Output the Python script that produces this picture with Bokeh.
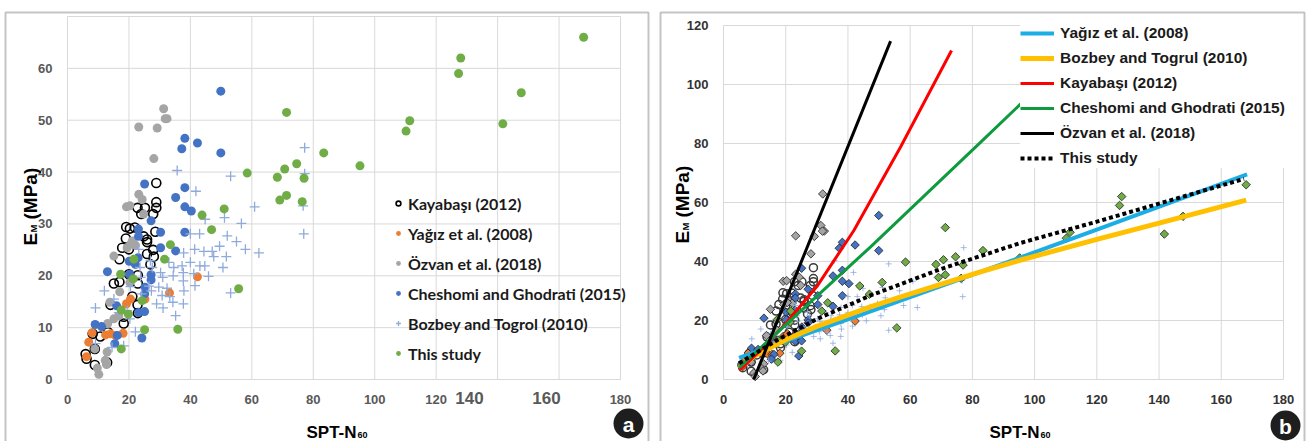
import math
from bokeh.plotting import figure
from bokeh.layouts import row
from bokeh.models import Range1d, FixedTicker, Legend, LegendItem, Label, BoxAnnotation, LinearAxis
from bokeh.embed import file_html
from bokeh.resources import INLINE

# ---------------- data ----------------
kaya_x = [28.9, 28.9, 28.9, 22.8, 25.2, 24.0, 27.9, 19.1, 20.3, 21.9, 28.6, 19.0, 24.8, 25.9, 25.9,
          17.8, 20.0, 27.9, 25.9, 28.1, 16.9, 27.0, 20.0, 22.9, 16.9, 15.1, 22.9, 21.1, 14.0, 22.8,
          22.9, 18.3, 18.3, 13.2, 10.7, 8.2, 8.9, 5.9, 6.2, 8.9, 12.9]
kaya_y = [37.9, 34.2, 33.1, 33.1, 33.1, 31.9, 31.9, 29.4, 29.1, 29.3, 28.5, 27.2, 27.6, 27.0, 26.5,
          25.4, 25.1, 25.0, 24.2, 23.7, 23.2, 22.2, 20.3, 20.1, 18.8, 18.5, 18.5, 16.0, 14.4, 14.4,
          12.8, 12.1, 10.8, 9.1, 8.3, 8.8, 5.9, 4.9, 4.0, 2.8, 3.3]

yagiz_x = [42.3, 33.2, 19.2, 20.5, 25.2, 8.0, 12.4, 14.0, 18.1, 6.9, 6.2, 15.6]
yagiz_y = [19.8, 16.7, 14.6, 15.5, 15.5, 9.0, 8.6, 8.8, 8.9, 7.2, 4.4, 8.5]

ozvan_x = [31.3, 32.4, 31.8, 23.2, 29.2, 28.1, 23.2, 24.3, 19.2, 20.3, 24.8, 21.1, 22.1, 15.1,
           19.4, 17.0, 20.3, 13.1, 15.1, 12.9, 12.3, 9.7, 10.2, 12.7, 8.9, 16.7, 13.8, 20.5]
ozvan_y = [52.2, 50.3, 50.3, 48.7, 48.5, 42.6, 35.7, 34.7, 33.3, 33.5, 31.9, 26.7, 25.9, 23.8,
           25.4, 16.9, 18.7, 10.8, 11.7, 5.3, 3.7, 2.2, 1.0, 2.9, 5.9, 12.3, 14.9, 26.1]
ozvan_extra_b_x = [31.9]
ozvan_extra_b_y = [62.9]

chesh_x = [49.9, 38.2, 37.2, 42.3, 49.9, 25.1, 38.2, 35.2, 38.2, 40.3, 27.2, 23.1, 23.1, 30.3,
           38.2, 30.3, 35.2, 23.0, 20.1, 22.1, 13.0, 20.2, 27.2, 27.2, 25.2, 25.1, 16.0, 23.1,
           25.1, 9.0, 11.1, 16.2, 15.4, 24.2]
chesh_y = [55.6, 46.5, 44.5, 45.6, 43.7, 37.7, 37.0, 35.1, 33.3, 32.5, 30.6, 29.0, 27.6, 28.4,
           28.4, 25.4, 24.8, 23.5, 22.8, 22.2, 20.8, 20.3, 20.2, 19.2, 17.8, 16.5, 14.2, 12.9,
           13.1, 10.6, 10.2, 8.5, 6.9, 8.0]

bozbey_x = [77.2, 77.2, 35.7, 53.1, 41.8, 60.9, 76.7, 44.8, 51.1, 56.6, 76.9, 40.0, 43.0, 52.0,
            55.0, 49.5, 57.9, 62.3, 41.4, 44.4, 47.1, 47.6, 51.7, 37.8, 40.0, 43.1, 44.7, 50.6,
            37.3, 34.6, 33.0, 37.7, 34.4, 31.0, 41.1, 45.9, 41.5, 37.7, 32.4, 29.7, 27.3, 37.9,
            30.8, 33.3, 34.3, 29.0, 37.7, 31.1, 35.2, 53.1, 12.0, 9.1, 24.1, 23.6, 27.6, 30.3,
            20.5, 20.3, 22.1, 14.5, 18.3, 9.1, 15.1, 16.7, 19.4, 23.2, 27.0, 23.8, 26.5]
bozbey_y = [44.7, 39.7, 40.3, 39.2, 36.3, 33.3, 33.5, 30.9, 31.2, 30.1, 28.1, 28.1, 28.1, 27.7,
            26.6, 25.7, 25.1, 24.4, 25.1, 24.7, 24.7, 23.7, 23.7, 24.4, 22.6, 21.9, 21.9, 21.6,
            21.9, 21.6, 22.6, 20.6, 20.0, 19.7, 20.4, 19.9, 18.1, 19.0, 17.6, 17.8, 17.1, 17.1,
            16.2, 16.0, 14.9, 14.6, 14.6, 13.8, 12.3, 16.7, 17.1, 13.8, 16.5, 21.6, 21.6, 20.6,
            17.9, 11.7, 9.2, 6.2, 6.5, 6.9, 15.5, 12.9, 13.3, 25.1, 22.9, 19.7, 18.0]

this_x = [168.0, 128.0, 127.3, 147.7, 111.4, 110.2, 141.7, 95.2, 83.4, 71.3, 58.5, 68.3, 70.7,
          74.6, 77.0, 69.1, 71.3, 76.4, 43.8, 51.0, 46.9, 33.5, 31.6, 21.6, 17.3, 21.4, 55.7,
          17.5, 19.8, 24.3, 25.1, 35.9, 17.5]
this_y = [66.0, 62.0, 59.0, 55.3, 49.9, 47.9, 49.3, 41.2, 43.7, 51.5, 39.8, 39.0, 40.6, 41.6,
          38.8, 34.6, 35.5, 34.3, 31.7, 32.9, 28.9, 26.0, 23.2, 23.2, 20.3, 19.4, 17.5, 13.4,
          12.6, 15.2, 9.6, 9.7, 5.9]

# trend curves of panel b
fit_yagiz_x = [5, 19.4, 47.3, 95.5, 120, 168.3]
fit_yagiz_y = [7.3, 12.8, 23.1, 41.4, 50.8, 69.5]
fit_bozbey_x = [5, 10, 20, 30, 47, 57, 82.6, 95.5, 120, 140, 168]
fit_bozbey_y = [3.8, 8.0, 13.5, 18.0, 24.5, 28.0, 36.5, 40.5, 47.5, 53.0, 60.8]
fit_kaya_x = [5.2, 12, 20, 30, 41.9, 57, 73.3]
fit_kaya_y = [3.2, 10, 19, 31.5, 50.5, 79, 111.5]
fit_chesh_x = [5, 47.2, 82.6, 118]
fit_chesh_y = [4, 44.9, 80.4, 116]
fit_ozvan_x = [9.7, 53.7]
fit_ozvan_y = [0, 114.7]
fit_this_x = [5, 17.3, 30, 47.3, 70, 95.5, 120, 167.3]
fit_this_y = [5.5, 13.4, 20.5, 28.5, 37.5, 46.3, 53.5, 68.0]

x_ticks = [0, 20, 40, 60, 80, 100, 120, 140, 160, 180]
ya_ticks = [0, 10, 20, 30, 40, 50, 60, 70]
yb_ticks = [0, 20, 40, 60, 80, 100, 120]

names = ["Kayabaşı (2012)", "Yağız et al. (2008)", "Özvan et al. (2018)",
         "Cheshomi and Ghodrati (2015)", "Bozbey and Togrol (2010)", "This study"]
names_b = ["Yağız et al. (2008)", "Bozbey and Togrul (2010)", "Kayabaşı (2012)",
           "Cheshomi and Ghodrati (2015)", "Özvan et al. (2018)", "This study"]

C_ORANGE = "#ED7D31"
C_GREY = "#A5A5A5"
C_BLUE = "#4472C4"
C_LBLUE = "#8FAADC"
C_GREEN = "#70AD47"
GRID = "#d9d9d9"
TICKFONT = "Liberation Sans"

# page geometry (px): figure boxes and plot-area boxes
PAGE_T, PAGE_B = 0, 441
A_FIG = (0, 654)
B_FIG = (654, 1307)
A_AREA = (67, 620, 16, 379)     # left, right, top, bottom of the data area
B_AREA = (723, 1283, 25, 379)


def setup(fig_lr, area, xr, yr, yticks, label_color):
    fl, fr = fig_lr
    al, ar, at, ab = area
    kx = (ar - al) / (xr[1] - xr[0])
    ky = (ab - at) / (yr[1] - yr[0])
    x_range = Range1d(xr[0] - (al - fl) / kx, xr[1] + (fr - ar) / kx)
    y_range = Range1d(yr[0] - (PAGE_B - ab) / ky, yr[1] + (at - PAGE_T) / ky)
    p = figure(width=fr - fl, height=PAGE_B - PAGE_T, x_range=x_range, y_range=y_range,
               output_backend="svg", toolbar_location=None,
               x_axis_location=None, y_axis_location=None,
               min_border_left=0, min_border_right=0, min_border_top=0, min_border_bottom=0)
    p.grid.visible = False
    p.outline_line_color = None

    def fx(px):
        return xr[0] + (px - al) / kx

    def fy(py):
        return yr[0] + (ab - py) / ky

    # grid lines limited to the data area
    p.segment(x0=x_ticks, y0=[yticks[0]] * len(x_ticks), x1=x_ticks, y1=[yticks[-1]] * len(x_ticks),
              line_color=GRID, line_width=1)
    p.segment(x0=[x_ticks[0]] * len(yticks), y0=yticks, x1=[x_ticks[-1]] * len(yticks), y1=yticks,
              line_color=GRID, line_width=1)

    xa = LinearAxis(fixed_location=yr[0], ticker=FixedTicker(ticks=x_ticks))
    ya = LinearAxis(fixed_location=xr[0], ticker=FixedTicker(ticks=yticks))
    for ax in (xa, ya):
        ax.axis_line_color = None
        ax.major_tick_line_color = None
        ax.minor_tick_line_color = None
        ax.major_label_text_font = TICKFONT
        ax.major_label_text_font_style = "bold"
        ax.major_label_text_color = label_color
        ax.major_label_text_font_size = "13px"
        ax.major_label_standoff = 9
    p.add_layout(xa, "below")
    p.add_layout(ya, "left")
    return p, fx, fy, xa, ya


def txt(p, x, y, text, size, color="black", bold=True, angle=0.0, align="left",
        baseline="alphabetic", font=TICKFONT):
    p.add_layout(Label(x=x, y=y, text=text, angle=angle, text_align=align,
                       text_baseline=baseline, text_font_size=size, text_color=color,
                       text_font=font, text_font_style="bold" if bold else "normal"))


def titles(p, fx, fy, ybase, ystarts, xstart, xbase=432):
    # y title E_M (MPa)
    txt(p, fx(ybase), fy(ystarts[0]), "E", "19px", angle=math.pi / 2)
    txt(p, fx(ybase + 3), fy(ystarts[1]), "M", "9.5px", angle=math.pi / 2)
    txt(p, fx(ybase), fy(ystarts[2]), "(MPa)", "19px", angle=math.pi / 2)
    # x title SPT-N60
    txt(p, fx(xstart), fy(xbase), "SPT-N", "17px")
    txt(p, fx(xstart + 51), fy(xbase + 2.5), "60", "9px")


def decorate(p, fx, fy, box, badge_xy, letter):
    l, r, t = box
    p.add_layout(BoxAnnotation(left=fx(l), right=fx(r), top=fy(t), bottom=fy(470),
                               fill_color=None, line_color="#3a3a3a", line_width=2))
    bx, by = badge_xy
    p.scatter([fx(bx)], [fy(by)], marker="circle", size=30, fill_color="#1e1e1e", line_color=None)
    txt(p, fx(bx), fy(by + 1), letter, "21px", color="white", align="center", baseline="middle")


# ---------------- panel a ----------------
pa, fxa, fya, xa_a, ya_a = setup(A_FIG, A_AREA, (0, 180), (0, 70), ya_ticks, "#595959")
xa_a.major_label_overrides = {140: "", 160: ""}
ya_a.major_label_overrides = {70: ""}

ra = [
    pa.scatter(kaya_x, kaya_y, marker="circle", size=9, fill_alpha=0, line_color="black", line_width=1.6),
    pa.scatter(yagiz_x, yagiz_y, marker="circle", size=9, fill_color=C_ORANGE, line_color=None),
    pa.scatter(ozvan_x, ozvan_y, marker="circle", size=9, fill_color=C_GREY, line_color=None),
    pa.scatter(chesh_x, chesh_y, marker="circle", size=9, fill_color=C_BLUE, line_color=None),
    pa.scatter(bozbey_x, bozbey_y, marker="cross", size=10, line_color=C_LBLUE, line_width=1.3),
    pa.scatter(this_x, this_y, marker="circle", size=9, fill_color=C_GREEN, line_color=None),
]
leg_a = Legend(items=[LegendItem(label=n, renderers=[r]) for n, r in zip(names, ra)],
               location=(392 - A_FIG[0], PAGE_B - 363), background_fill_alpha=0,
               border_line_color=None, padding=0, margin=0, spacing=10, label_height=20,
               glyph_height=20, glyph_width=12, label_standoff=4, label_text_font="Lato",
               label_text_font_size="16px", label_text_font_style="bold",
               label_text_color="#1a1a1a")
pa.add_layout(leg_a, "center")
txt(pa, fxa(469), fya(397), "140", "17px", color="#595959", align="center", baseline="middle")
txt(pa, fxa(546), fya(397), "160", "17px", color="#595959", align="center", baseline="middle")
titles(pa, fxa, fya, 30, (245, 232, 219), 306)
decorate(pa, fxa, fya, (5, 648, 12), (628, 423), "a")

# ---------------- panel b ----------------
pb, fxb, fyb, xa_b, ya_b = setup(B_FIG, B_AREA, (0, 180), (0, 120), yb_ticks, "#333333")

EDGE = "#1f1f1f"
pb.scatter(kaya_x, kaya_y, marker="circle", size=8, fill_alpha=0, line_color="#3a3a3a", line_width=1.5)
pb.scatter(yagiz_x, yagiz_y, marker="square", angle=math.pi / 4, size=6, fill_color=C_ORANGE, line_color=EDGE, line_width=0.8)
pb.scatter(ozvan_x + ozvan_extra_b_x, ozvan_y + ozvan_extra_b_y, marker="square", angle=math.pi / 4, size=6, fill_color=C_GREY, line_color=EDGE, line_width=0.8)
pb.scatter(chesh_x, chesh_y, marker="square", angle=math.pi / 4, size=6, fill_color=C_BLUE, line_color=EDGE, line_width=0.8)
pb.scatter(bozbey_x, bozbey_y, marker="cross", size=6, line_color=C_LBLUE, line_width=1.0, line_alpha=0.8)
pb.scatter(this_x, this_y, marker="square", angle=math.pi / 4, size=6, fill_color=C_GREEN, line_color=EDGE, line_width=0.8)

lb = [
    pb.line(fit_yagiz_x, fit_yagiz_y, line_color="#1CADE4", line_width=4),
    pb.line(fit_bozbey_x, fit_bozbey_y, line_color="#FFC000", line_width=5),
    pb.line(fit_kaya_x, fit_kaya_y, line_color="#FF0000", line_width=3),
    pb.line(fit_chesh_x, fit_chesh_y, line_color="#0E9A3E", line_width=3),
    pb.line(fit_ozvan_x, fit_ozvan_y, line_color="black", line_width=3),
    pb.line(fit_this_x, fit_this_y, line_color="black", line_width=4, line_dash="4 3"),
]
leg_b = Legend(items=[LegendItem(label=n, renderers=[r]) for n, r in zip(names_b, lb)],
               location=(1020 - B_FIG[0], PAGE_B - 168), background_fill_color="white",
               background_fill_alpha=1, border_line_color=None, padding=5, margin=0, spacing=5,
               label_height=20, glyph_height=20, glyph_width=34, label_standoff=6,
               label_text_font=TICKFONT, label_text_font_size="15.5px",
               label_text_font_style="bold", label_text_color="#1a1a1a")
pb.add_layout(leg_b, "center")
titles(pb, fxb, fyb, 682, (243, 230, 217), 989)
decorate(pb, fxb, fyb, (660, 1304, 12), (1285, 425), "b")

layout = row(pa, pb)
open("out.html", "w").write(file_html(layout, INLINE))
